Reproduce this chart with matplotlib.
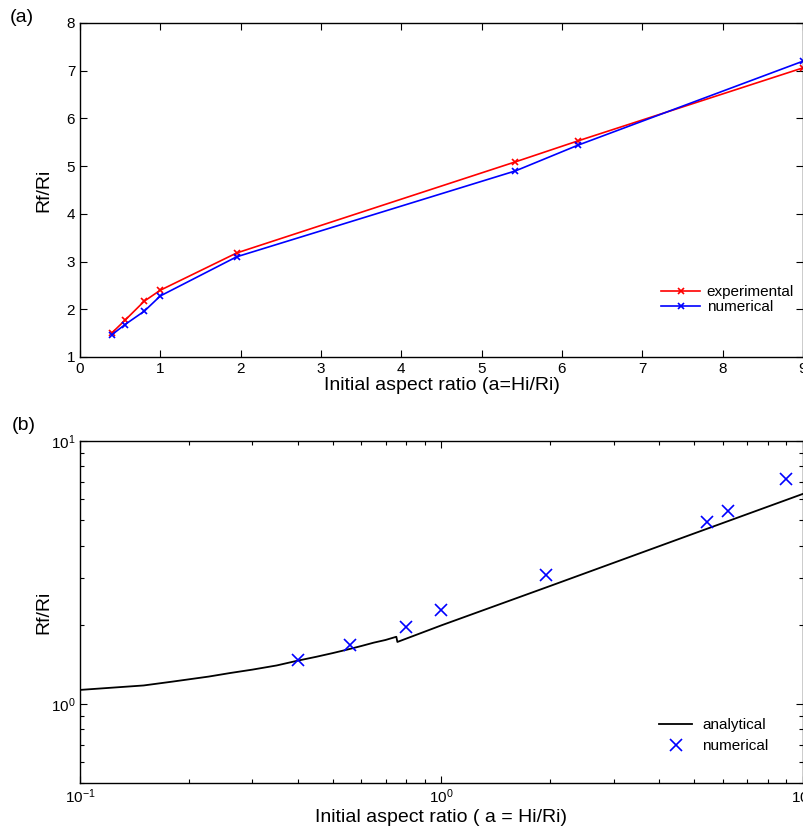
import numpy as np
import matplotlib
matplotlib.use("Agg")
import matplotlib.pyplot as plt
from matplotlib.ticker import NullFormatter, LogLocator

plt.rcParams['font.family'] = ['Liberation Sans', 'DejaVu Sans']

# aspect ratios a = Hi/Ri
aspect = [0.4, 0.56, 0.8, 1.0, 1.95, 5.42, 6.2, 9.0]
experimental = [1.51, 1.77, 2.17, 2.40, 3.18, 5.09, 5.53, 7.06]
numerical = [1.47, 1.68, 1.96, 2.28, 3.10, 4.90, 5.44, 7.20]

# analytical curve
analytical_x = [0.1, 0.12, 0.15, 0.18, 0.227, 0.26, 0.3, 0.35, 0.4, 0.45, 0.5, 0.55,
                0.6, 0.65, 0.7, 0.75, 0.755, 1.0, 2.0, 5.0, 10.5]
analytical_y = [1.13, 1.15, 1.175, 1.215, 1.27, 1.31, 1.35, 1.40, 1.46, 1.51, 1.56, 1.61,
                1.66, 1.71, 1.75, 1.80, 1.72, 1.99, 2.81, 4.45, 6.45]

fig = plt.figure(figsize=(8.04, 8.32), dpi=100)
W, H = 804., 832.

def style(ax):
    ax.tick_params(direction='in', top=True, right=True, labelsize=11, length=5, width=0.8)
    ax.tick_params(which='minor', direction='in', top=True, right=True, length=3, width=0.8)
    for s in ax.spines.values():
        s.set_linewidth(1.0)
    ax.yaxis.set_label_coords(-0.038, 0.5)

# (a)
ax1 = fig.add_axes([80 / W, 1 - 357 / H, 723 / W, 334 / H])
ax1.plot(aspect, experimental, color='red', marker='x', ms=4, mew=1.2, lw=1.2, label='experimental')
ax1.plot(aspect, numerical, color='blue', marker='x', ms=4, mew=1.2, lw=1.2, label='numerical')
ax1.set_xlim(0, 9)
ax1.set_ylim(1, 8)
ax1.set_xticks(range(0, 10))
ax1.set_yticks(range(1, 9))
ax1.set_xlabel('Initial aspect ratio (a=Hi/Ri)', fontsize=14, labelpad=1)
ax1.set_ylabel('Rf/Ri', fontsize=14)
style(ax1)
ax1.legend(loc='lower right', bbox_to_anchor=(1.0, 0.1), frameon=False, fontsize=11,
           handlelength=2.6, handletextpad=0.4, labelspacing=0.1, borderaxespad=0.2)
fig.text(10 / W, 1 - 22 / H, '(a)', fontsize=14)

# (b)
ax2 = fig.add_axes([80 / W, 1 - 783 / H, 723 / W, 342 / H])
ax2.plot(analytical_x, analytical_y, color='black', lw=1.3, label='analytical')
ax2.plot(aspect, numerical, ls='none', color='blue', marker='x', ms=9, mew=1.2, label='numerical')
ax2.set_xscale('log')
ax2.set_yscale('log')
ax2.set_xlim(0.1, 10)
ax2.set_ylim(0.5, 10)
ax2.xaxis.set_minor_locator(LogLocator(subs=np.arange(2, 10)))
ax2.yaxis.set_minor_locator(LogLocator(subs=np.arange(2, 10)))
ax2.xaxis.set_minor_formatter(NullFormatter())
ax2.yaxis.set_minor_formatter(NullFormatter())
ax2.set_yticks([1, 10])
ax2.set_xlabel('Initial aspect ratio ( a = Hi/Ri)', fontsize=14, labelpad=2)
ax2.set_ylabel('Rf/Ri', fontsize=14)
style(ax2)
ax2.legend(loc='lower right', bbox_to_anchor=(0.965, 0.06), frameon=False, fontsize=11,
           handlelength=2.2, handletextpad=0.65, labelspacing=0.45, borderaxespad=0.2)
fig.text(12 / W, 1 - 430 / H, '(b)', fontsize=14)

fig.savefig('out.png', dpi=100)
